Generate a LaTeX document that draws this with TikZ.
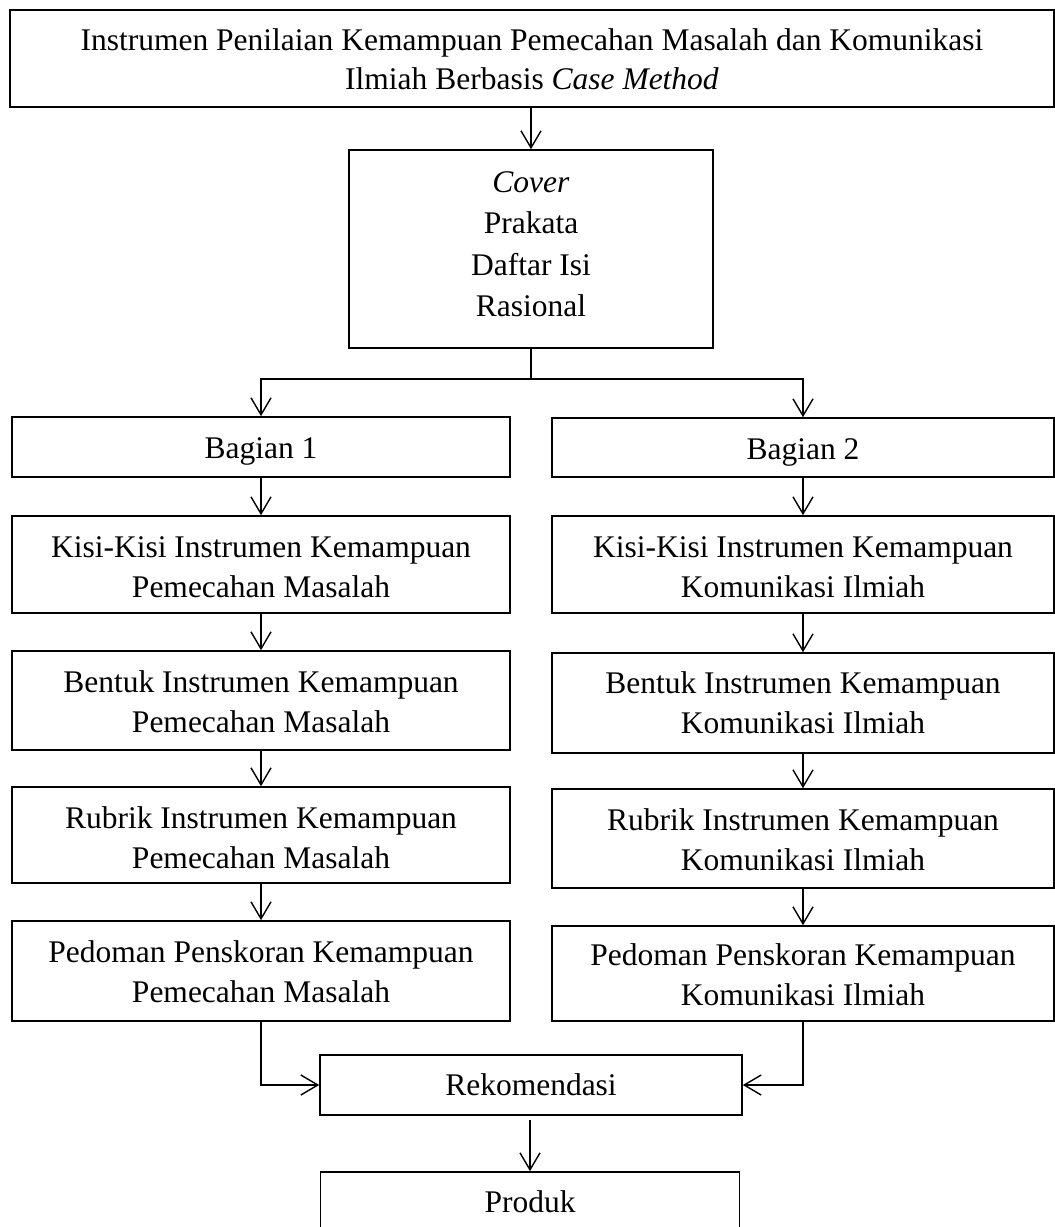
\documentclass[tikz,border=0pt]{standalone}
\usepackage{fontspec}
\setmainfont{Liberation Serif}
\usetikzlibrary{arrows.meta}
\newcommand\hd[2]{\rule[-#2pt]{0pt}{\dimexpr#1pt+#2pt\relax}}
\begin{document}
\begin{tikzpicture}[x=1pt,y=-1pt,
  box/.style={draw, line width=1.6pt, rectangle, inner sep=0pt, align=center,
    font=\fontsize{31.5}{40}\selectfont},
  lbox/.style={box, minimum width=498pt},
  rbox/.style={box, minimum width=502pt},
  arr/.style={line width=1.4pt, -{Straight Barb[length=17pt,width=20pt,line width=1.4pt]}},
  ln/.style={line width=1.4pt}
]
\useasboundingbox (0,0) rectangle (1055,1227);

\node[box, minimum width=1044pt, minimum height=97pt, font=\fontsize{31.5}{39}\selectfont] (top) at (532,58.5)
  {\hd{29}{0}Instrumen Penilaian Kemampuan Pemecahan Masalah dan Komunikasi\\Ilmiah Berbasis \textit{Case Method}\hd{0}{7}};

\node[box, minimum width=364pt, minimum height=198pt, font=\fontsize{31.5}{41.5}\selectfont] (cover) at (531,249)
  {\hd{22}{0}\textit{Cover}\\Prakata\\Daftar Isi\\Rasional\hd{0}{11.5}};

\node[lbox, minimum height=60pt] (b1) at (261,447) {\hd{29}{7}Bagian 1};
\node[rbox, minimum height=59pt] (b2) at (803,447.5) {\hd{30}{7}Bagian 2};

\node[lbox, minimum height=97pt] (k1) at (261,564.5) {\hd{32}{0}Kisi-Kisi Instrumen Kemampuan\\Pemecahan Masalah\hd{0}{7}};
\node[rbox, minimum height=97pt] (k2) at (803,564.5) {\hd{32}{0}Kisi-Kisi Instrumen Kemampuan\\Komunikasi Ilmiah\hd{0}{7}};

\node[lbox, minimum height=99pt] (f1) at (261,700.5) {\hd{30}{0}Bentuk Instrumen Kemampuan\\Pemecahan Masalah\hd{0}{7}};
\node[rbox, minimum height=100pt] (f2) at (803,703) {\hd{27}{0}Bentuk Instrumen Kemampuan\\Komunikasi Ilmiah\hd{0}{7}};

\node[lbox, minimum height=96pt] (r1) at (261,835) {\hd{33}{0}Rubrik Instrumen Kemampuan\\Pemecahan Masalah\hd{0}{7}};
\node[rbox, minimum height=99pt] (r2) at (803,838.5) {\hd{30}{0}Rubrik Instrumen Kemampuan\\Komunikasi Ilmiah\hd{0}{7}};

\node[lbox, minimum height=100pt] (p1) at (261,971) {\hd{29}{0}Pedoman Penskoran Kemampuan\\Pemecahan Masalah\hd{0}{7}};
\node[rbox, minimum height=95pt] (p2) at (803,973.5) {\hd{30}{0}Pedoman Penskoran Kemampuan\\Komunikasi Ilmiah\hd{0}{7}};

\node[box, minimum width=422pt, minimum height=60pt] (rek) at (531,1085) {\hd{27}{7}Rekomendasi};
\node[box, minimum width=419pt, minimum height=60pt] (prod) at (530,1202) {\hd{27}{7}Produk};

% connectors
\draw[arr] (top.south -| cover.north) -- (cover.north);
\draw[ln] (cover.south) -- ++(0,30) coordinate (split);
\draw[arr] (split) -| (b1.north);
\draw[arr] (split) -| (b2.north);

\draw[arr] (b1) -- (k1);
\draw[arr] (k1) -- (f1);
\draw[arr] (f1) -- (r1);
\draw[arr] (r1) -- (p1);

\draw[arr] (b2) -- (k2);
\draw[arr] (k2) -- (f2);
\draw[arr] (f2) -- (r2);
\draw[arr] (r2) -- (p2);

\draw[arr] (p1.south) |- (rek.west);
\draw[arr] (p2.south) |- (rek.east);
\draw[arr, shorten <=4pt] (rek.south -| prod.north) -- (prod.north);
\end{tikzpicture}
\end{document}
